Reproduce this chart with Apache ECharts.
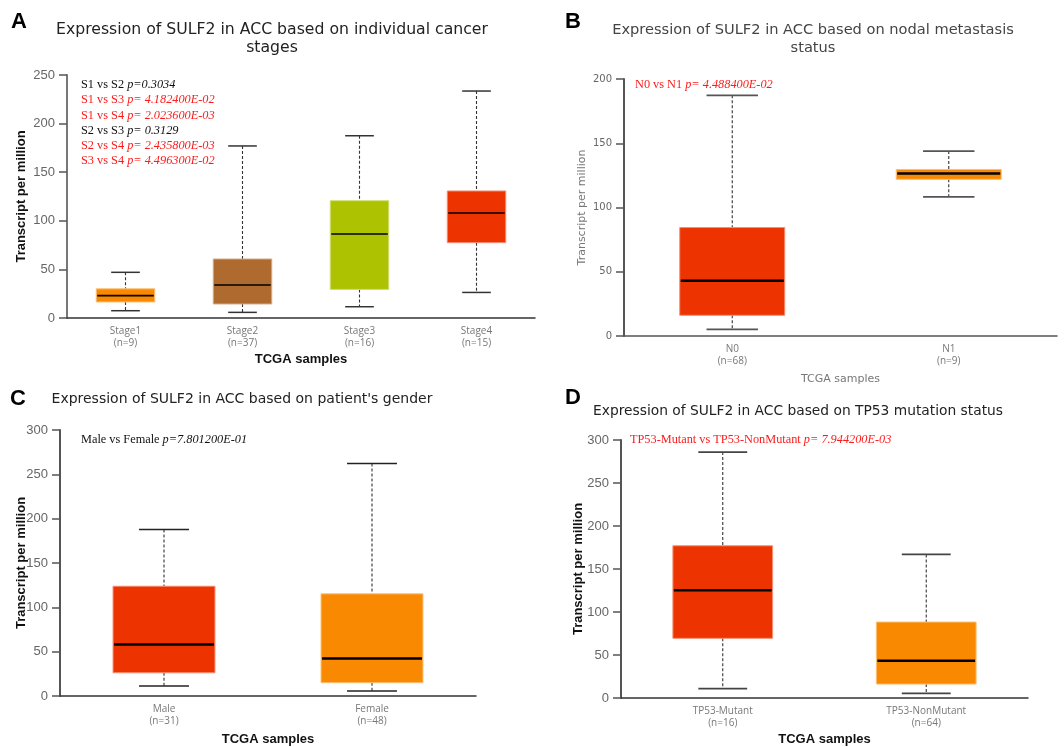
<!DOCTYPE html>
<html>
<head>
<meta charset="utf-8">
<script src="https://cdn.jsdelivr.net/npm/echarts@6/dist/echarts.min.js"></script>
<style>
  html, body { margin: 0; padding: 0; background: #fff; }
  #chart { width: 1064px; height: 747px; }
</style>
</head>
<body>
<div id="chart"></div>
<script>
// ---- Data: box summaries as [min, Q1, median, Q3, max] (transcripts per million) ----
const stageCats = ['Stage1', 'Stage2', 'Stage3', 'Stage4'];
const stageN = [9, 37, 16, 15];
const stageBoxes = [
  [7.5, 16.5, 23, 30, 47],
  [5.8, 14.4, 34, 60.7, 177],
  [11.6, 29.4, 86.4, 120.7, 187.5],
  [26.3, 77.5, 108, 130.7, 233.5]
];
const stagePairs = ['S1 vs S2', 'S1 vs S3', 'S1 vs S4', 'S2 vs S3', 'S2 vs S4', 'S3 vs S4'];
const stagePText = ['p=0.3034', 'p= 4.182400E-02', 'p= 2.023600E-03', 'p= 0.3129', 'p= 2.435800E-03', 'p= 4.496300E-02'];
const stagePValue = [0.3034, 4.1824e-2, 2.0236e-3, 0.3129, 2.4358e-3, 4.4963e-2];

const nodalCats = ['N0', 'N1'];
const nodalN = [68, 9];
const nodalBoxes = [
  [5.2, 16.1, 42.9, 84.4, 187.3],
  [108.3, 121.9, 126.5, 129.6, 143.9]
];
const nodalPairs = ['N0 vs N1'];
const nodalPText = ['p= 4.488400E-02'];
const nodalPValue = [4.4884e-2];

const genderCats = ['Male', 'Female'];
const genderN = [31, 48];
const genderBoxes = [
  [11.2, 26.2, 58, 123.8, 187.8],
  [5.6, 15, 42.2, 115.2, 262.2]
];
const genderPairs = ['Male vs Female'];
const genderPText = ['p=7.801200E-01'];
const genderPValue = [0.78012];

const tp53Cats = ['TP53-Mutant', 'TP53-NonMutant'];
const tp53N = [16, 64];
const tp53Boxes = [
  [10.8, 69.4, 125.3, 177, 286],
  [5.4, 16.2, 43.2, 88.3, 167]
];
const tp53Pairs = ['TP53-Mutant vs TP53-NonMutant'];
const tp53PText = ['p= 7.944200E-03'];
const tp53PValue = [7.9442e-3];

// ---- Styling ----
const ORANGE = '#F98900', BROWN = '#AE6A2F', LIME = '#ADC200', RED = '#ED3300';
const stageColors = [ORANGE, BROWN, LIME, RED];
const pairColors = [RED, ORANGE];

function tint(hex, k) {
  const n = parseInt(hex.slice(1), 16);
  const r = n >> 16, g = (n >> 8) & 255, b = n & 255;
  const m = c => Math.round(c + (255 - c) * k);
  return 'rgb(' + m(r) + ',' + m(g) + ',' + m(b) + ')';
}

// Box-and-whisker glyph drawn through the axes' own coordinate mapping
function boxRenderer(colors, boxRatio, medianWidth, capColor, capWidth) {
  return function (params, api) {
    const cat = api.value(0);
    const lo = api.coord([cat, api.value(1)]);
    const q1 = api.coord([cat, api.value(2)]);
    const md = api.coord([cat, api.value(3)]);
    const q3 = api.coord([cat, api.value(4)]);
    const hi = api.coord([cat, api.value(5)]);
    const band = api.size([1, 0])[0];
    const bw = band * boxRatio;
    const cw = bw * 0.49;
    const x = md[0];
    const fill = colors[params.dataIndex];
    const dash = { stroke: '#333', lineWidth: 1.1, lineDash: [3, 2] };
    return {
      type: 'group',
      children: [
        { type: 'line', shape: { x1: x, y1: hi[1], x2: x, y2: q3[1] }, style: dash },
        { type: 'line', shape: { x1: x, y1: q1[1], x2: x, y2: lo[1] }, style: dash },
        { type: 'line', shape: { x1: x - cw / 2, y1: hi[1], x2: x + cw / 2, y2: hi[1] }, style: { stroke: capColor, lineWidth: capWidth } },
        { type: 'line', shape: { x1: x - cw / 2, y1: lo[1], x2: x + cw / 2, y2: lo[1] }, style: { stroke: capColor, lineWidth: capWidth } },
        { type: 'rect', shape: { x: x - bw / 2, y: q3[1], width: bw, height: q1[1] - q3[1] },
          style: { fill: fill, stroke: tint(fill, 0.45), lineWidth: 1 } },
        { type: 'line', shape: { x1: x - bw / 2 + 1, y1: md[1], x2: x + bw / 2 - 1, y2: md[1] },
          style: { stroke: '#000', lineWidth: medianWidth } }
      ]
    };
  };
}

function toData(boxes) {
  return boxes.map((b, i) => [i].concat(b));
}
function catLabels(cats, ns) {
  return cats.map((c, i) => c + '\n(n=' + ns[i] + ')');
}

const boldAxisName = { fontFamily: 'Liberation Sans', fontWeight: 'bold', fontSize: 13, color: '#111' };
const plainAxisName = { fontFamily: 'DejaVu Sans', fontSize: 11, color: '#777' };

function xAxisFor(idx, cats, ns, nameStyle, nameGap, lineColor) {
  return {
    gridIndex: idx, type: 'category', data: catLabels(cats, ns),
    name: 'TCGA samples', nameLocation: 'middle', nameGap: nameGap, nameTextStyle: nameStyle,
    nameMoveOverlap: false,
    axisLine: { lineStyle: { color: lineColor, width: 1.5 } },
    axisTick: { show: false },
    axisLabel: { fontFamily: 'Open Sans', fontSize: 10, color: '#777', lineHeight: 12, margin: 7, interval: 0 },
    splitLine: { show: false }
  };
}
function yAxisFor(idx, max, nameStyle, nameGap, labelSize, labelFont, lineColor) {
  return {
    gridIndex: idx, type: 'value', min: 0, max: max, interval: 50,
    name: 'Transcript per million', nameLocation: 'middle', nameRotate: 90, nameGap: nameGap, nameTextStyle: nameStyle,
    nameMoveOverlap: false,
    axisLine: { show: true, lineStyle: { color: lineColor, width: 2 } },
    axisTick: { show: true, inside: false, length: 8, lineStyle: { color: '#555', width: 1.5 } },
    axisLabel: { fontFamily: labelFont, fontSize: labelSize, color: '#666', margin: 12 },
    splitLine: { show: false }
  };
}

// p-value annotation lines: comparison name upright, statistic in italics
function pLines(pairs, ptext, pvals, x, y0, step) {
  return pairs.map((p, i) => {
    const col = pvals[i] < 0.05 ? '#FF1A1A' : '#111';
    return {
      type: 'text', x: x, y: y0 + i * step,
      style: {
        text: p + ' {i|' + ptext[i] + '}',
        fill: col,
        font: '12.3px "Liberation Serif"',
        verticalAlign: 'middle',
        rich: { i: { fontStyle: 'italic', fontFamily: 'Liberation Serif', fontSize: 12.3, fill: col } }
      }
    };
  });
}
function label(text, x, y, size, color, lh) {
  return { type: 'text', x: x, y: y,
    style: { text: text, font: size + 'px "DejaVu Sans"', fill: color, align: 'center', verticalAlign: 'middle', lineHeight: lh || 18 } };
}
function letter(text, x, y) {
  return { type: 'text', x: x, y: y,
    style: { text: text, font: 'bold 22px "Liberation Sans"', fill: '#000', align: 'center', verticalAlign: 'middle' } };
}

const option = {
  backgroundColor: '#fff',
  animation: false,
  grid: [
    { left: 67, top: 75, width: 468, height: 243 },
    { left: 624, top: 79, width: 433, height: 257 },
    { left: 60, top: 430, width: 416, height: 267 },
    { left: 621, top: 440, width: 407, height: 259 }
  ],
  xAxis: [
    xAxisFor(0, stageCats, stageN, boldAxisName, 35, '#333'),
    xAxisFor(1, nodalCats, nodalN, plainAxisName, 38, '#555'),
    xAxisFor(2, genderCats, genderN, boldAxisName, 37, '#333'),
    xAxisFor(3, tp53Cats, tp53N, boldAxisName, 35, '#333')
  ],
  yAxis: [
    yAxisFor(0, 250, boldAxisName, 39, 13, 'Liberation Sans', '#777'),
    yAxisFor(1, 200, plainAxisName, 36, 10, 'DejaVu Sans', '#555'),
    yAxisFor(2, 300, boldAxisName, 32, 13, 'Liberation Sans', '#555'),
    yAxisFor(3, 300, boldAxisName, 36, 13, 'Liberation Sans', '#555')
  ],
  series: [
    { type: 'custom', xAxisIndex: 0, yAxisIndex: 0, data: toData(stageBoxes), renderItem: boxRenderer(stageColors, 0.5, 1.6, '#333', 1.5) },
    { type: 'custom', xAxisIndex: 1, yAxisIndex: 1, data: toData(nodalBoxes), renderItem: boxRenderer(pairColors, 0.485, 2.5, '#555', 1.8) },
    { type: 'custom', xAxisIndex: 2, yAxisIndex: 2, data: toData(genderBoxes), renderItem: boxRenderer(pairColors, 0.49, 2.5, '#222', 1.6) },
    { type: 'custom', xAxisIndex: 3, yAxisIndex: 3, data: toData(tp53Boxes), renderItem: boxRenderer(pairColors, 0.49, 2.5, '#444', 1.8) }
  ],
  graphic: [
    letter('A', 19, 22),
    letter('B', 573, 22),
    letter('C', 18, 399),
    letter('D', 573, 398),
    label('Expression of SULF2 in ACC based on individual cancer\nstages', 272, 39, 15.7, '#222', 17.5),
    label('Expression of SULF2 in ACC based on nodal metastasis\nstatus', 813, 39.5, 14.6, '#444', 18),
    label("Expression of SULF2 in ACC based on patient's gender", 242, 399, 14, '#222'),
    label('Expression of SULF2 in ACC based on TP53 mutation status', 798, 411, 13.8, '#222')
  ]
    .concat(pLines(stagePairs, stagePText, stagePValue, 81, 85, 15.2))
    .concat(pLines(nodalPairs, nodalPText, nodalPValue, 635, 85, 15))
    .concat(pLines(genderPairs, genderPText, genderPValue, 81, 440, 15))
    .concat(pLines(tp53Pairs, tp53PText, tp53PValue, 630, 440, 15))
};

const chart = echarts.init(document.getElementById('chart'), null, { renderer: 'canvas' });
chart.setOption(option);
</script>
</body>
</html>
